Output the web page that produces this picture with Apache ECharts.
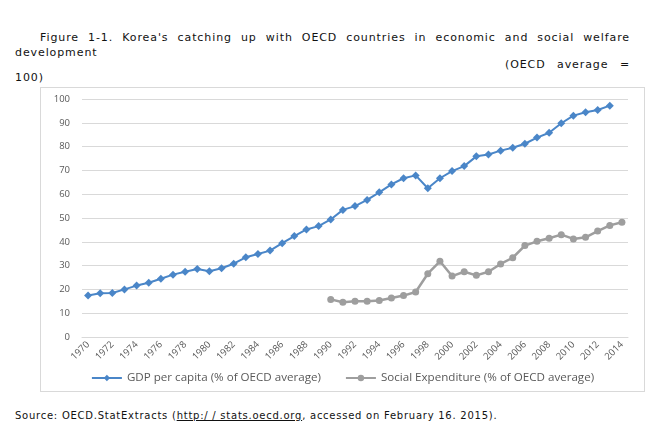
<!DOCTYPE html>
<html>
<head>
    <meta charset="utf-8">
    <title>Figure 1-1</title>
    <script src="https://cdn.jsdelivr.net/npm/echarts@6/dist/echarts.min.js"></script>
    <style>
        body { margin: 0; width: 659px; height: 439px; background: #fff; position: relative; overflow: hidden; }
        .txt { position: absolute; left: 15px; width: 615px; font-family: "DejaVu Sans", sans-serif; color: #111; text-align: justify; }
    </style>
</head>
<body>
<div class="txt" style="top:30px;font-size:11px;letter-spacing:0.9px;line-height:15px;text-indent:25px;">Figure 1-1. Korea's catching up with OECD countries in economic and social welfare development</div>
<div class="txt" style="top:58px;font-size:11px;letter-spacing:0.9px;line-height:13px;text-indent:490px;">(OECD average = 100)</div>
<div id="main" style="position:absolute;left:40px;top:87px;width:605px;height:305px;box-sizing:border-box;border:1px solid #d9d9d9;"></div>
<div class="txt" style="top:409px;font-size:10px;letter-spacing:0.75px;line-height:14px;text-align:left;">Source: OECD.StatExtracts (<u>http:/ / stats.oecd.org</u>, accessed on February 16. 2015).</div>

<script type="text/javascript">
    // years on the x axis
    var years = [];
    for (var y = 1970; y <= 2014; y++) years.push(String(y));

    // GDP per capita (% of OECD average), 1970-2013
    var gdp = [17.4, 18.4, 18.5, 20.0, 21.6, 22.8, 24.5, 26.2, 27.4, 28.6,
               27.6, 28.9, 30.8, 33.5, 34.9, 36.3, 39.4, 42.4, 45.2, 46.6,
               49.4, 53.4, 55.0, 57.6, 60.8, 64.1, 66.7, 67.9, 62.5, 66.7,
               69.7, 71.8, 75.9, 76.7, 78.3, 79.5, 81.2, 83.8, 85.8, 89.8,
               93.0, 94.4, 95.4, 97.2, null];

    // Social Expenditure (% of OECD average), 1990-2014
    var social = [null, null, null, null, null, null, null, null, null, null,
                  null, null, null, null, null, null, null, null, null, null,
                  15.8, 14.6, 15.0, 15.0, 15.3, 16.4, 17.4, 18.9, 26.6, 31.8,
                  25.6, 27.4, 25.9, 27.4, 30.7, 33.3, 38.4, 40.2, 41.5, 43.0,
                  41.2, 41.9, 44.5, 46.9, 48.2];

    var chart = echarts.init(document.getElementById('main'));

    var option = {
        animation: false,
        textStyle: { fontFamily: 'Open Sans' },
        grid: { left: 41, right: 16, top: 11, bottom: 54 },
        legend: {
            bottom: 2,
            left: 'center',
            itemWidth: 30,
            itemHeight: 8,
            itemGap: 24,
            textStyle: { fontSize: 11.6, color: '#595959', fontFamily: 'Open Sans' },
            data: ['GDP per capita (% of OECD average)', 'Social Expenditure (% of OECD average)']
        },
        xAxis: {
            type: 'category',
            data: years,
            boundaryGap: true,
            axisLine: { show: true, lineStyle: { color: '#d9d9d9' } },
            axisTick: { show: false },
            axisLabel: { interval: 1, rotate: 45, fontSize: 9.5, color: '#595959', margin: 6 },
            splitLine: { show: false }
        },
        yAxis: {
            type: 'value',
            min: 0,
            max: 100,
            interval: 10,
            axisLine: { show: false },
            axisTick: { show: false },
            axisLabel: { fontSize: 9.5, color: '#595959', margin: 12 },
            splitLine: { lineStyle: { color: '#d9d9d9' } }
        },
        series: [
            {
                name: 'GDP per capita (% of OECD average)',
                type: 'line',
                data: gdp,
                symbol: 'diamond',
                symbolSize: 8,
                showAllSymbol: true,
                lineStyle: { color: '#4a86c8', width: 2 },
                itemStyle: { color: '#4a86c8' }
            },
            {
                name: 'Social Expenditure (% of OECD average)',
                type: 'line',
                data: social,
                symbol: 'circle',
                symbolSize: 7,
                showAllSymbol: true,
                lineStyle: { color: '#9e9e9e', width: 2.5 },
                itemStyle: { color: '#9e9e9e' }
            }
        ]
    };

    chart.setOption(option);
</script>
</body>
</html>
